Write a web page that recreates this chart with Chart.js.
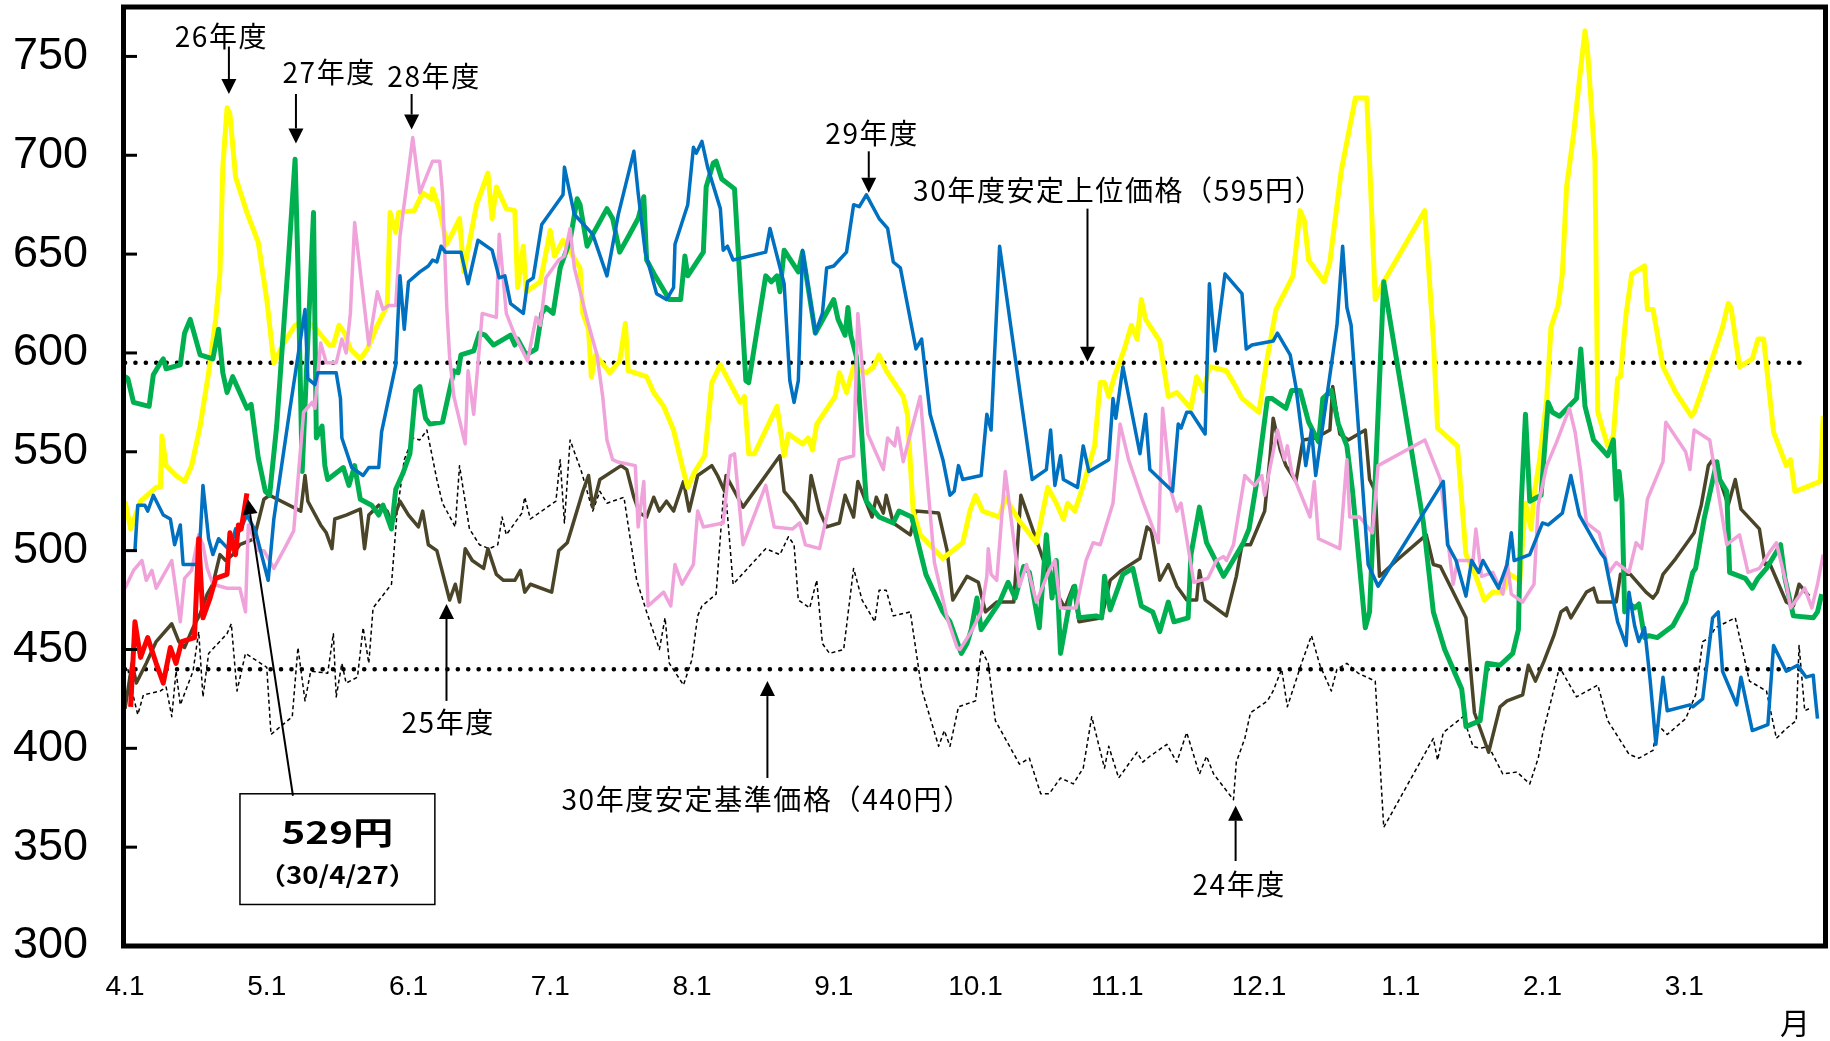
<!DOCTYPE html>
<html>
<head>
<meta charset="utf-8">
<script src="https://cdn.jsdelivr.net/npm/chart.js@4.4.1/dist/chart.umd.min.js"></script>
<style>
  html, body { margin: 0; padding: 0; background: #fff; }
  canvas { display: block; }
</style>
</head>
<body>
<canvas id="chart" width="1830" height="1041"></canvas>
<script>
// x = months since 4/1 (0..12), y = price (円)
const monthLabels = ['4.1', '5.1', '6.1', '7.1', '8.1', '9.1', '10.1', '11.1', '12.1', '1.1', '2.1', '3.1'];
const upperPrice = 595; // 30年度安定上位価格
const basePrice = 440;  // 30年度安定基準価格
const refEnd = 11.88;

const fy30 = [[0.04,421],[0.07,464],[0.11,446],[0.16,456],[0.22,443],[0.27,433],[0.32,451],[0.36,443],[0.4,454],[0.49,456],[0.52,506],[0.55,466],[0.6,476],[0.64,486],[0.72,488],[0.74,509],[0.78,498],[0.8,513],[0.82,511],[0.86,529]];

const fy29 = [[0.07,500],[0.09,523],[0.14,523],[0.16,520],[0.2,528],[0.27,518],[0.32,516],[0.35,503],[0.39,513],[0.41,493],[0.48,493],[0.52,493],[0.55,533],[0.59,506],[0.62,498],[0.66,506],[0.74,500],[0.78,511],[0.81,510],[0.86,518],[0.92,510],[1.01,485],[1.05,516],[1.16,570],[1.27,622],[1.29,587],[1.34,584],[1.36,590],[1.49,590],[1.52,577],[1.53,557],[1.6,542],[1.68,538],[1.72,542],[1.79,542],[1.81,560],[1.91,594],[1.94,639],[1.97,612],[2.0,636],[2.08,641],[2.14,644],[2.17,647],[2.2,646],[2.23,654],[2.26,651],[2.37,651],[2.42,635],[2.49,657],[2.59,652],[2.64,638],[2.68,639],[2.72,625],[2.81,620],[2.84,636],[2.88,638],[2.94,665],[3.09,680],[3.1,694],[3.17,670],[3.21,667],[3.3,660],[3.4,639],[3.48,670],[3.59,702],[3.62,681],[3.67,651],[3.75,630],[3.82,627],[3.87,633],[3.88,655],[3.97,675],[4.01,704],[4.03,701],[4.07,707],[4.11,694],[4.2,673],[4.22,652],[4.25,654],[4.29,647],[4.52,651],[4.55,663],[4.65,635],[4.69,586],[4.72,575],[4.75,586],[4.78,652],[4.87,610],[4.92,620],[4.95,643],[5.0,644],[5.09,651],[5.14,675],[5.18,674],[5.23,680],[5.32,668],[5.38,663],[5.42,646],[5.47,643],[5.58,602],[5.62,607],[5.68,569],[5.77,546],[5.82,528],[5.85,530],[5.88,543],[5.91,536],[6.04,538],[6.08,569],[6.11,561],[6.17,654],[6.4,536],[6.5,541],[6.53,561],[6.56,533],[6.6,548],[6.62,536],[6.72,532],[6.76,553],[6.8,540],[6.94,546],[6.97,577],[6.99,567],[7.04,593],[7.16,549],[7.2,569],[7.23,541],[7.39,530],[7.43,564],[7.45,562],[7.49,570],[7.52,570],[7.62,559],[7.65,635],[7.69,601],[7.76,640],[7.88,630],[7.91,602],[7.95,604],[8.1,606],[8.13,610],[8.22,599],[8.26,583],[8.33,543],[8.37,561],[8.4,538],[8.55,614],[8.59,654],[8.62,623],[8.65,614],[8.77,493],[8.84,482],[9.3,535],[9.33,503],[9.39,495],[9.46,477],[9.5,495],[9.55,489],[9.58,495],[9.69,481],[9.75,493],[9.78,509],[9.8,495],[9.91,498],[10.0,514],[10.04,513],[10.14,519],[10.2,538],[10.26,518],[10.41,499],[10.44,496],[10.53,464],[10.59,452],[10.61,479],[10.65,462],[10.68,454],[10.72,461],[10.76,434],[10.8,402],[10.85,436],[10.88,419],[11.04,422],[11.06,421],[11.13,425],[11.2,466],[11.24,469],[11.27,439],[11.37,422],[11.4,436],[11.48,409],[11.59,412],[11.63,452],[11.72,439],[11.8,442],[11.86,436],[11.91,437],[11.92,429],[11.94,415]];

const fy28 = [[0,481],[0.06,490],[0.12,495],[0.15,485],[0.19,490],[0.22,481],[0.33,495],[0.39,464],[0.42,486],[0.47,490],[0.52,508],[0.55,503],[0.58,491],[0.62,483],[0.72,481],[0.81,481],[0.85,469],[0.87,513],[0.94,500],[0.98,500],[1.05,491],[1.14,503],[1.19,510],[1.26,570],[1.32,575],[1.34,572],[1.38,605],[1.42,595],[1.49,595],[1.53,607],[1.56,600],[1.59,620],[1.62,666],[1.72,604],[1.78,631],[1.82,622],[1.86,624],[1.91,624],[1.94,659],[1.98,681],[2.03,709],[2.08,681],[2.17,697],[2.22,697],[2.24,681],[2.27,623],[2.29,598],[2.32,578],[2.4,554],[2.42,591],[2.46,569],[2.52,620],[2.62,618],[2.64,660],[2.69,620],[2.75,609],[2.84,596],[2.9,618],[2.93,614],[2.97,638],[3.06,647],[3.1,649],[3.14,663],[3.17,643],[3.26,617],[3.33,599],[3.37,578],[3.4,556],[3.44,546],[3.47,545],[3.6,543],[3.62,512],[3.66,535],[3.69,472],[3.8,479],[3.85,472],[3.88,493],[3.93,483],[4.01,493],[4.04,520],[4.08,512],[4.22,514],[4.27,548],[4.3,549],[4.36,503],[4.52,533],[4.58,512],[4.71,511],[4.76,514],[4.8,503],[4.9,501],[5.04,546],[5.14,548],[5.17,620],[5.24,559],[5.35,541],[5.38,557],[5.43,553],[5.45,562],[5.49,545],[5.61,578],[5.71,494],[5.8,466],[5.87,451],[5.89,450],[5.97,459],[6.04,469],[6.08,487],[6.09,501],[6.11,488],[6.15,485],[6.21,540],[6.31,482],[6.36,493],[6.43,474],[6.52,490],[6.56,495],[6.6,471],[6.71,471],[6.78,495],[6.83,504],[6.88,503],[6.97,524],[7.02,564],[7.08,546],[7.18,525],[7.29,504],[7.32,572],[7.38,530],[7.42,520],[7.45,524],[7.54,484],[7.64,486],[7.7,495],[7.75,497],[7.77,495],[7.82,503],[7.9,538],[7.94,535],[7.97,533],[8.02,538],[8.04,528],[8.13,561],[8.18,546],[8.2,553],[8.23,540],[8.36,517],[8.39,535],[8.42,506],[8.57,501],[8.62,546],[8.64,517],[8.71,517],[8.8,509],[8.84,543],[9.17,556],[9.28,536],[9.37,483],[9.4,495],[9.51,495],[9.53,511],[9.57,487],[9.65,489],[9.72,478],[9.75,495],[9.78,478],[9.86,474],[9.94,483],[9.97,523],[10.03,543],[10.1,555],[10.19,572],[10.23,560],[10.27,540],[10.31,514],[10.4,509],[10.47,489],[10.52,494],[10.61,489],[10.66,504],[10.7,501],[10.74,526],[10.85,545],[10.87,565],[11.01,550],[11.04,541],[11.07,561],[11.18,556],[11.3,503],[11.39,508],[11.45,489],[11.53,491],[11.6,499],[11.65,504],[11.72,483],[11.75,471],[11.85,481],[11.9,471],[11.94,483],[11.98,498]];

const fy27 = [[0,588],[0.02,587],[0.06,575],[0.17,573],[0.2,589],[0.25,595],[0.27,597],[0.29,592],[0.39,594],[0.42,610],[0.46,617],[0.53,599],[0.62,597],[0.66,612],[0.69,590],[0.72,580],[0.76,588],[0.86,572],[0.89,574],[0.94,547],[0.99,530],[1.02,528],[1.07,563],[1.15,644],[1.2,698],[1.22,644],[1.25,540],[1.28,590],[1.33,671],[1.35,557],[1.39,563],[1.41,543],[1.43,536],[1.54,542],[1.58,533],[1.62,543],[1.66,526],[1.74,523],[1.79,518],[1.82,523],[1.88,511],[1.91,531],[1.96,539],[2.01,549],[2.05,581],[2.08,583],[2.12,567],[2.15,564],[2.24,565],[2.32,591],[2.35,590],[2.37,599],[2.46,601],[2.5,610],[2.54,609],[2.6,604],[2.72,609],[2.75,604],[2.77,607],[2.83,599],[2.9,602],[2.94,620],[2.97,623],[3.02,620],[3.07,643],[3.14,657],[3.19,678],[3.21,675],[3.26,654],[3.3,660],[3.4,673],[3.44,668],[3.49,651],[3.56,660],[3.62,668],[3.66,679],[3.68,647],[3.74,639],[3.84,627],[3.92,627],[3.95,649],[3.97,639],[4.08,651],[4.1,684],[4.15,696],[4.17,697],[4.21,688],[4.3,683],[4.38,586],[4.4,585],[4.52,639],[4.56,636],[4.6,639],[4.62,631],[4.65,652],[4.75,641],[4.78,651],[4.87,610],[5.0,627],[5.03,617],[5.08,609],[5.1,623],[5.12,609],[5.16,598],[5.23,525],[5.32,517],[5.42,514],[5.46,520],[5.55,517],[5.65,488],[5.77,469],[5.82,464],[5.9,448],[5.94,453],[5.97,460],[6.01,476],[6.04,460],[6.17,474],[6.23,484],[6.28,476],[6.34,492],[6.38,489],[6.45,461],[6.5,508],[6.54,476],[6.57,495],[6.6,448],[6.67,476],[6.7,482],[6.73,466],[6.85,467],[6.89,466],[6.91,487],[6.95,470],[7.04,488],[7.11,491],[7.17,472],[7.25,469],[7.3,459],[7.36,474],[7.4,464],[7.5,466],[7.52,498],[7.58,522],[7.63,504],[7.75,487],[7.8,493],[7.89,504],[7.93,511],[7.98,533],[8.06,577],[8.09,577],[8.19,572],[8.23,581],[8.29,581],[8.35,565],[8.42,555],[8.45,577],[8.51,581],[8.56,564],[8.62,553],[8.66,530],[8.75,461],[8.78,469],[8.88,636],[9.16,514],[9.23,469],[9.31,450],[9.43,430],[9.46,411],[9.56,414],[9.61,443],[9.7,442],[9.79,448],[9.83,460],[9.85,524],[9.88,569],[9.91,525],[9.99,528],[10.04,575],[10.07,570],[10.12,568],[10.24,577],[10.27,602],[10.3,573],[10.36,556],[10.46,548],[10.5,556],[10.52,526],[10.54,540],[10.56,526],[10.58,469],[10.6,474],[10.65,471],[10.68,473],[10.72,456],[10.75,457],[10.81,456],[10.92,462],[11.01,474],[11.06,489],[11.08,491],[11.14,516],[11.23,545],[11.25,536],[11.3,530],[11.32,489],[11.43,486],[11.48,481],[11.52,486],[11.58,491],[11.68,503],[11.71,486],[11.77,467],[11.91,466],[11.94,469],[11.97,478]];

const fy26 = [[0,525],[0.04,511],[0.11,525],[0.22,532],[0.25,532],[0.26,558],[0.29,543],[0.36,538],[0.42,535],[0.47,543],[0.53,563],[0.59,590],[0.64,617],[0.67,641],[0.69,694],[0.72,724],[0.74,721],[0.78,689],[0.86,671],[0.94,656],[1.0,627],[1.05,595],[1.12,605],[1.2,614],[1.27,617],[1.35,612],[1.44,604],[1.47,604],[1.51,614],[1.55,610],[1.59,602],[1.66,597],[1.71,602],[1.78,614],[1.85,624],[1.87,671],[1.91,661],[1.93,671],[2.04,672],[2.1,681],[2.16,678],[2.17,683],[2.22,672],[2.27,655],[2.32,662],[2.36,668],[2.39,641],[2.48,675],[2.56,691],[2.59,668],[2.62,684],[2.69,673],[2.75,672],[2.77,633],[2.81,654],[2.83,631],[2.93,636],[3.0,662],[3.03,649],[3.09,657],[3.16,649],[3.21,643],[3.23,620],[3.27,612],[3.29,588],[3.32,599],[3.42,590],[3.49,596],[3.53,615],[3.55,591],[3.68,588],[3.73,580],[3.8,573],[3.87,561],[3.93,543],[3.97,532],[4.02,540],[4.09,548],[4.14,585],[4.2,594],[4.34,575],[4.37,578],[4.4,549],[4.44,549],[4.6,573],[4.65,548],[4.68,559],[4.78,554],[4.82,557],[4.85,551],[4.88,564],[5.01,578],[5.04,590],[5.09,580],[5.14,593],[5.2,591],[5.23,590],[5.28,593],[5.32,599],[5.37,591],[5.49,578],[5.52,569],[5.56,520],[5.61,508],[5.77,496],[5.91,504],[5.96,520],[6.0,528],[6.05,520],[6.09,519],[6.17,517],[6.21,527],[6.3,516],[6.43,504],[6.51,532],[6.57,524],[6.62,516],[6.65,524],[6.7,520],[6.76,533],[6.84,553],[6.88,585],[6.91,585],[6.94,578],[6.98,588],[7.05,602],[7.1,614],[7.14,607],[7.17,627],[7.2,617],[7.3,606],[7.36,578],[7.42,580],[7.52,572],[7.56,588],[7.61,581],[7.65,593],[7.77,591],[7.82,585],[7.88,577],[8.0,570],[8.05,594],[8.12,622],[8.24,639],[8.29,672],[8.32,667],[8.35,647],[8.46,636],[8.5,646],[8.58,692],[8.68,729],[8.76,729],[8.78,697],[8.82,627],[8.88,636],[9.17,672],[9.23,607],[9.26,562],[9.4,553],[9.46,498],[9.53,487],[9.59,475],[9.65,479],[9.72,479],[9.77,488],[9.84,485],[9.88,524],[9.92,511],[9.94,528],[9.98,546],[10.03,577],[10.06,613],[10.11,624],[10.14,640],[10.17,684],[10.22,711],[10.26,738],[10.3,763],[10.32,751],[10.37,697],[10.39,570],[10.46,553],[10.5,558],[10.53,587],[10.55,588],[10.59,620],[10.63,640],[10.72,644],[10.74,622],[10.78,622],[10.85,593],[10.94,580],[11.05,568],[11.07,570],[11.11,578],[11.27,613],[11.31,625],[11.33,623],[11.39,593],[11.48,597],[11.52,607],[11.56,607],[11.63,560],[11.72,543],[11.75,546],[11.78,530],[11.82,531],[11.96,535],[11.98,568]];

const fy25 = [[0,420],[0.05,443],[0.08,433],[0.15,443],[0.22,454],[0.33,463],[0.38,454],[0.42,451],[0.48,461],[0.53,468],[0.58,478],[0.62,483],[0.67,498],[0.71,495],[0.76,498],[0.81,503],[0.91,506],[0.98,526],[1.02,528],[1.24,520],[1.27,538],[1.29,525],[1.38,513],[1.42,509],[1.46,501],[1.48,516],[1.56,518],[1.66,521],[1.69,501],[1.72,518],[1.79,523],[1.85,520],[1.88,513],[1.94,525],[2.0,518],[2.07,512],[2.1,520],[2.14,503],[2.2,500],[2.29,475],[2.33,483],[2.36,474],[2.4,501],[2.45,495],[2.53,491],[2.56,501],[2.62,488],[2.67,485],[2.75,485],[2.79,490],[2.82,479],[2.86,483],[3.01,479],[3.06,500],[3.12,504],[3.15,511],[3.23,530],[3.27,538],[3.3,522],[3.35,536],[3.5,543],[3.54,541],[3.59,527],[3.63,519],[3.68,517],[3.73,527],[3.77,520],[3.82,525],[3.87,520],[3.94,535],[3.98,520],[4.04,538],[4.14,543],[4.18,538],[4.23,530],[4.24,538],[4.36,522],[4.62,548],[4.65,530],[4.72,524],[4.81,514],[4.84,538],[4.9,520],[4.95,512],[5.04,514],[5.08,528],[5.14,517],[5.17,535],[5.27,517],[5.3,527],[5.35,519],[5.37,528],[5.42,514],[5.54,508],[5.58,520],[5.74,519],[5.8,500],[5.84,475],[5.94,487],[6.02,484],[6.07,469],[6.15,474],[6.27,474],[6.32,528],[6.48,495],[6.57,479],[6.63,471],[6.69,482],[6.73,464],[6.89,466],[6.95,485],[7.03,490],[7.16,496],[7.21,512],[7.24,510],[7.3,485],[7.36,493],[7.42,482],[7.49,475],[7.56,475],[7.58,490],[7.62,475],[7.77,467],[7.84,487],[7.88,503],[7.94,503],[8.04,520],[8.08,549],[8.1,567],[8.15,551],[8.19,543],[8.26,535],[8.31,556],[8.4,557],[8.5,561],[8.52,583],[8.57,559],[8.63,556],[8.75,561],[8.78,536],[8.82,530],[8.85,487],[8.97,495],[9.18,508],[9.23,493],[9.28,492],[9.46,466],[9.52,418],[9.62,398],[9.7,421],[9.75,424],[9.86,427],[9.9,442],[9.95,434],[10.01,444],[10.08,457],[10.13,469],[10.17,471],[10.2,466],[10.25,472],[10.31,479],[10.36,481],[10.39,474],[10.52,474],[10.55,488],[10.62,488],[10.73,479],[10.78,476],[10.81,479],[10.85,488],[10.94,496],[11.07,509],[11.12,523],[11.17,543],[11.2,546],[11.25,536],[11.31,523],[11.36,536],[11.4,521],[11.53,511],[11.57,493],[11.6,494],[11.72,474],[11.77,472],[11.81,483],[11.88,477]];

const fy24 = [[0.02,440],[0.05,429],[0.09,417],[0.13,427],[0.25,429],[0.29,431],[0.33,416],[0.36,439],[0.39,422],[0.48,439],[0.52,459],[0.55,426],[0.59,448],[0.72,458],[0.75,463],[0.79,429],[0.85,448],[1.0,441],[1.03,407],[1.18,416],[1.22,451],[1.27,424],[1.31,439],[1.43,438],[1.47,458],[1.49,426],[1.53,443],[1.56,433],[1.64,436],[1.68,461],[1.72,443],[1.75,471],[1.88,483],[1.92,520],[1.94,530],[1.97,546],[2.03,557],[2.08,556],[2.13,561],[2.2,536],[2.24,524],[2.33,512],[2.36,543],[2.43,511],[2.5,503],[2.57,501],[2.63,503],[2.66,517],[2.69,508],[2.8,519],[2.82,527],[2.86,516],[3.04,525],[3.07,546],[3.1,514],[3.14,556],[3.22,540],[3.3,520],[3.35,530],[3.4,524],[3.52,527],[3.56,508],[3.61,485],[3.68,469],[3.77,450],[3.81,466],[3.84,443],[3.94,432],[4.0,445],[4.04,467],[4.07,472],[4.17,478],[4.23,536],[4.29,483],[4.52,501],[4.62,498],[4.68,507],[4.72,503],[4.75,475],[4.83,471],[4.88,485],[4.92,453],[4.97,448],[5.07,450],[5.14,491],[5.2,475],[5.29,464],[5.32,480],[5.37,480],[5.42,467],[5.54,469],[5.62,430],[5.74,401],[5.78,409],[5.82,401],[5.88,421],[6.0,424],[6.04,450],[6.09,443],[6.14,414],[6.31,392],[6.38,395],[6.46,377],[6.52,377],[6.6,385],[6.69,382],[6.76,390],[6.82,416],[6.91,390],[6.94,401],[7.01,385],[7.14,398],[7.18,393],[7.23,396],[7.35,402],[7.42,393],[7.49,408],[7.58,387],[7.63,396],[7.68,387],[7.82,374],[7.84,393],[7.9,405],[7.94,418],[8.0,421],[8.06,424],[8.1,429],[8.16,440],[8.2,421],[8.3,443],[8.37,457],[8.43,442],[8.51,429],[8.55,440],[8.62,443],[8.7,438],[8.82,434],[8.88,360],[9.23,405],[9.26,394],[9.3,408],[9.44,416],[9.51,401],[9.56,400],[9.62,401],[9.72,387],[9.82,388],[9.91,382],[9.97,395],[10.0,407],[10.12,441],[10.24,426],[10.39,432],[10.46,414],[10.54,405],[10.61,397],[10.68,395],[10.78,399],[10.81,412],[10.88,407],[11.01,415],[11.08,427],[11.13,454],[11.18,456],[11.22,461],[11.36,466],[11.46,434],[11.58,429],[11.65,405],[11.72,410],[11.79,414],[11.81,452],[11.85,419],[11.88,420]];

// labels with arrows, placed in data space (month, price)
const notes = [
  { text: '26年度', tx: 0.68, ty: 760, ax: 0.733, from: 755, to: 731 },
  { text: '27年度', tx: 1.44, ty: 742, ax: 1.206, from: 731, to: 706 },
  { text: '28年度', tx: 2.18, ty: 740, ax: 2.022, from: 731, to: 713 },
  { text: '29年度', tx: 5.27, ty: 711, ax: 5.247, from: 702, to: 681 },
  { text: '30年度安定上位価格（595円）', tx: 7.01, ty: 682, ax: 6.79, from: 673, to: 595.5 },
  { text: '25年度', tx: 2.28, ty: 413, ax: 2.268, from: 424, to: 473 },
  { text: '30年度安定基準価格（440円）', tx: 4.53, ty: 374, ax: 4.532, from: 385, to: 434 },
  { text: '24年度', tx: 7.86, ty: 331, ax: 7.835, from: 343, to: 371 }
];
const callout = { x0: 0.811, x1: 2.186, top: 377, bottom: 321, price: '529円', date: '（30/4/27）', fromX: 1.185, fromY: 376, toX: 0.867, toY: 526 };

const pts = arr => arr.map(([x, y]) => ({ x, y }));

function arrow(ctx, x1, y1, x2, y2) {
  const head = 15, half = 7.5;
  const ang = Math.atan2(y2 - y1, x2 - x1);
  const bx = x2 - head * Math.cos(ang), by = y2 - head * Math.sin(ang);
  ctx.lineWidth = 2;
  ctx.beginPath(); ctx.moveTo(x1, y1); ctx.lineTo(bx, by); ctx.stroke();
  ctx.beginPath();
  ctx.moveTo(x2, y2);
  ctx.lineTo(bx + half * Math.sin(ang), by - half * Math.cos(ang));
  ctx.lineTo(bx - half * Math.sin(ang), by + half * Math.cos(ang));
  ctx.closePath(); ctx.fill();
}

// text drawn a bit wider than the font's normal width
function wideText(ctx, text, cx, cy, stretch) {
  ctx.save();
  ctx.translate(cx, cy);
  ctx.scale(stretch, 1);
  ctx.fillText(text, 0, 0);
  ctx.restore();
}

const decorations = {
  id: 'decorations',
  afterDatasetsDraw(chart) {
    const { ctx, chartArea: a, scales: { x, y } } = chart;
    ctx.save();
    ctx.fillStyle = '#000';
    ctx.strokeStyle = '#000';

    // plot frame
    ctx.lineWidth = 5;
    ctx.strokeRect(a.left - 1.5, a.top, a.right - a.left + 1, a.bottom - a.top);

    // inward tick marks on the value axis
    ctx.lineWidth = 3;
    y.ticks.forEach(t => {
      const py = y.getPixelForValue(t.value);
      ctx.beginPath(); ctx.moveTo(a.left, py); ctx.lineTo(a.left + 12, py); ctx.stroke();
    });

    // labels + arrows
    ctx.font = '28px "Noto Sans CJK JP"';
    ctx.letterSpacing = '1.6px';
    ctx.textAlign = 'center';
    ctx.textBaseline = 'middle';
    notes.forEach(n => {
      ctx.fillText(n.text, x.getPixelForValue(n.tx), y.getPixelForValue(n.ty));
      const ax = x.getPixelForValue(n.ax);
      arrow(ctx, ax, y.getPixelForValue(n.from), ax, y.getPixelForValue(n.to));
    });

    // callout box for the latest price
    const bx0 = x.getPixelForValue(callout.x0), bx1 = x.getPixelForValue(callout.x1);
    const by0 = y.getPixelForValue(callout.top), by1 = y.getPixelForValue(callout.bottom);
    ctx.fillStyle = '#fff';
    ctx.fillRect(bx0, by0, bx1 - bx0, by1 - by0);
    ctx.lineWidth = 1.5;
    ctx.strokeRect(bx0, by0, bx1 - bx0, by1 - by0);
    ctx.fillStyle = '#000';
    const cx = (bx0 + bx1) / 2;
    ctx.letterSpacing = '0px';
    ctx.font = 'bold 31px "Noto Sans CJK JP"';
    wideText(ctx, callout.price, cx, by0 + 38, 1.3);
    ctx.font = 'bold 24px "Noto Sans CJK JP"';
    wideText(ctx, callout.date, cx, by0 + 81, 1.15);
    arrow(ctx, x.getPixelForValue(callout.fromX), y.getPixelForValue(callout.fromY),
      x.getPixelForValue(callout.toX), y.getPixelForValue(callout.toY));

    // unit label under the month axis
    ctx.font = '30px "Noto Sans CJK JP"';
    ctx.fillText('月', a.right - 31, a.bottom + 77);
    ctx.restore();
  }
};

const series = [
  { data: fy30, color: '#ff0000', width: 5 },
  { data: fy29, color: '#0070c0', width: 3.5 },
  { data: fy28, color: '#f0a3da', width: 3.5 },
  { data: fy27, color: '#00b050', width: 5 },
  { data: fy26, color: '#ffff00', width: 5 },
  { data: fy25, color: '#4a4529', width: 3.5 },
  { data: fy24, color: '#000000', width: 1.5, dash: [4, 3] }
];

const datasets = series.map(s => ({
  data: pts(s.data),
  borderColor: s.color,
  borderWidth: s.width,
  borderDash: s.dash || [],
  borderJoinStyle: 'round',
  pointRadius: 0,
  tension: 0
}));
[upperPrice, basePrice].forEach(v => datasets.push({
  data: [{ x: 0, y: v }, { x: refEnd, y: v }],
  borderColor: '#000',
  borderWidth: 4.5,
  borderDash: [0.1, 10.3],
  borderCapStyle: 'round',
  pointRadius: 0
}));

const axisFont = '"Liberation Sans Narrow", "Liberation Sans", sans-serif';

new Chart(document.getElementById('chart'), {
  type: 'line',
  data: { datasets },
  options: {
    responsive: false,
    animation: false,
    devicePixelRatio: 1,
    layout: { padding: { top: 7, right: 4, left: 0, bottom: 0 } },
    plugins: { legend: { display: false }, tooltip: { enabled: false } },
    scales: {
      x: {
        type: 'linear',
        min: 0,
        max: 12,
        grid: { display: false, drawTicks: false },
        border: { display: false },
        afterFit: s => { s.height = 95; s.paddingLeft = 0; s.paddingRight = 0; },
        ticks: {
          stepSize: 1,
          autoSkip: false,
          maxRotation: 0,
          padding: 24,
          color: '#000',
          font: { family: axisFont, size: 28 },
          callback: v => monthLabels[v] ?? ''
        }
      },
      y: {
        min: 300,
        max: 775,
        grid: { display: false, drawTicks: false },
        border: { display: false },
        afterFit: s => { s.width = 125; s.paddingTop = 0; s.paddingBottom = 0; },
        afterBuildTicks: s => { s.ticks = s.ticks.filter(t => t.value % 50 === 0); },
        ticks: {
          stepSize: 50,
          includeBounds: false,
          autoSkip: false,
          padding: 37,
          color: '#000',
          font: { family: axisFont, size: 45 }
        }
      }
    }
  },
  plugins: [decorations]
});
</script>
</body>
</html>
